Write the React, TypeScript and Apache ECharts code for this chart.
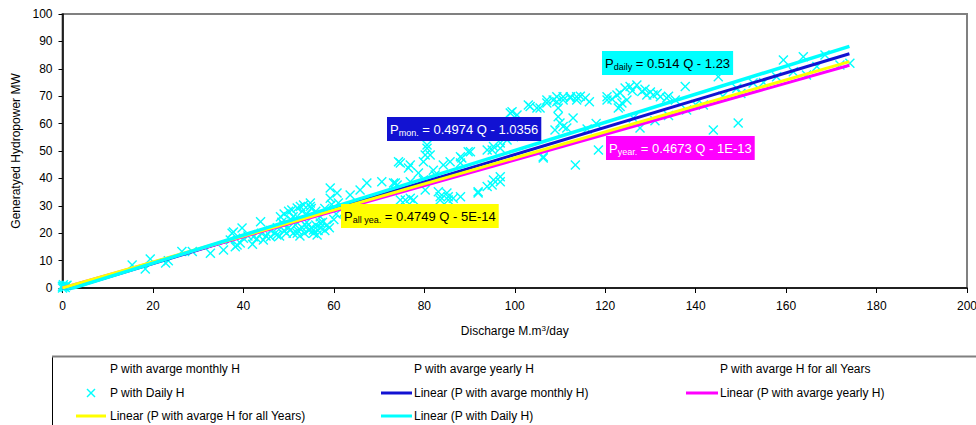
import React, { useEffect, useRef } from "react";
import * as echarts from "echarts";

const FONT = "'Liberation Sans', Arial, sans-serif";

// Daily points [Q (M.m3/day), P (MW)]
const dailyPoints: [number, number][] = [
  [0, 0], [0.3, 0.5], [0.6, 0.2], [1, 1], [0.2, 1.2], [0.8, 0.8], [0, 0.6],
  [15.4, 8.4], [18.3, 6.9], [19.4, 10.6], [22.8, 9.1], [23.4, 9.9], [26.4, 13.3], [28.7, 13.3],
  [32.7, 12.7], [35.6, 13.9], [37.5, 20], [39.7, 21.9], [38.2, 15.1], [39.3, 16.4], [37.1, 17.5],
  [38.6, 15.7], [37.8, 20.4], [40, 18.2], [41, 19], [42, 16], [42.2, 18.7], [43, 18], [43.8, 24.2],
  [44, 20], [44.4, 17.5], [45, 19], [46, 18.7], [46, 21], [47, 20], [47.4, 19.3], [47.5, 22],
  [48, 19], [48.2, 26], [48.5, 24], [48.9, 23], [49, 21], [49, 27], [49.5, 20], [50, 22], [50, 28],
  [50.4, 21.2], [50.5, 25], [50.7, 28.5], [51, 20], [51, 26], [51.5, 23], [51.9, 29.2], [51.9, 20],
  [52, 21], [52.5, 19], [52.6, 24.8], [52.6, 29.7], [53, 22], [53, 28], [53.3, 30.3], [53.5, 20],
  [54, 24], [54, 22.4], [54, 27], [54.5, 21], [54.8, 29.7], [54.8, 31], [55, 22], [55, 29],
  [55.5, 21.2], [55.5, 20], [56, 23], [56, 28], [56.3, 19.3], [56.5, 21], [57, 22], [57, 23.7],
  [57, 26], [57.5, 24], [58, 21], [58.5, 23], [59, 22], [59.2, 32.8], [59.2, 36.5], [60, 25],
  [60.5, 27], [60.7, 34.7], [58, 29], [59.5, 30.5], [61, 31], [62.1, 27.4], [63.6, 33.9],
  [65.8, 35.8], [67.3, 38.3], [70.6, 38.8], [73.2, 38.3], [73.6, 38.3], [74, 37.6], [74.7, 45.6],
  [74.3, 46.1], [74.7, 32.1], [75.8, 32.1], [76.5, 43.8], [76.9, 44.9], [76.9, 38.8], [76.9, 32.8],
  [77.6, 32.1], [78.7, 42], [79.8, 46.1], [79.8, 39.4], [80.2, 48.5], [80.2, 35.8], [80.6, 51],
  [80.6, 52.2], [81.3, 48.5], [82, 43], [82.4, 41.2], [83.1, 35.1], [83.5, 33.3], [83.5, 32.1],
  [84.2, 44.9], [85, 34.7], [85.3, 32.1], [85.3, 33.3], [85.7, 46.1], [86.4, 32.8], [88, 47.9],
  [88, 45.6], [88, 33.3], [88.3, 47.4], [89.7, 49.7], [90.2, 49.7], [91.9, 35.1], [91.9, 34.7],
  [93.9, 37], [93.9, 50.4], [95, 50.4], [95, 37.6], [95.3, 39.4], [95.3, 51.6], [96.8, 40.6],
  [96.8, 38.8], [96.8, 52.9], [96.8, 51], [96.8, 57], [98.3, 54], [99, 63.9], [99.4, 64.3],
  [99.7, 55.2], [100.5, 63.1], [101, 58], [102, 56], [103, 66.8], [103.4, 66.2], [103.4, 60.2],
  [104.9, 65.7], [105.6, 65.7], [106.3, 47.9], [106.3, 47.4], [107.1, 68.6], [107.1, 67.5],
  [108.5, 68.6], [108.9, 57.7], [109.3, 69.8], [109.3, 68], [109.6, 65.7], [109.6, 62.5], [110, 60.2],
  [110.7, 69.8], [110.7, 68.6], [110.7, 58.9], [111.5, 58.4], [112.3, 69.8], [112.3, 69.3],
  [112.9, 62], [113.4, 44.9], [113.7, 69.8], [113.7, 68.6], [114.5, 70], [115.6, 69.3], [116, 58],
  [116.5, 68], [118, 60], [118.5, 50.4], [120.4, 69.8], [120.4, 68.6], [121.5, 69], [122.6, 70.4],
  [122.9, 65.7], [123.3, 71.2], [123.3, 66.2], [123.7, 67.5], [124.4, 73], [124.8, 68.6],
  [125.5, 73.5], [126, 72], [126.2, 62], [127, 74.1], [127.7, 58.4], [128.1, 71.7], [128.8, 72.5],
  [129.2, 70.4], [130, 71.5], [130.6, 70.4], [131, 61], [131.5, 71], [132.2, 69.8], [133.6, 69.3],
  [134, 63], [134, 70], [135.5, 68.6], [137.7, 73.5], [138, 65], [140, 67], [141.7, 66.8],
  [143.9, 57.7], [145, 77.1], [146, 70], [149.1, 72.9], [149.4, 60.2], [150, 71], [152.7, 74.8],
  [155, 75], [157.9, 77.1], [159.4, 83.2], [161.6, 78.9], [163.8, 84.4], [164.5, 77.7], [166.8, 80.8],
  [168.6, 85], [171.9, 81.4], [174.1, 82],
];

// Trend line end points [Q, P]
const trendMonthly: [number, number][] = [[0, -1.04], [174, 85.5]];
const trendYearly: [number, number][] = [[0, 0], [174, 81.3]];
const trendAllYears: [number, number][] = [[0, 0], [174, 82.6]];
const trendDaily: [number, number][] = [[0, -1.23], [174, 88.2]];

const seriesNames = [
  "P with avarge monthly H",
  "P with avarge yearly H",
  "P with avarge H for all Years",
  "P with Daily H",
  "Linear (P with avarge monthly H)",
  "Linear (P with avarge yearly H)",
  "Linear (P with avarge H for all Years)",
  "Linear (P with Daily H)",
];

const COLORS = {
  cyan: "#00FFFF",
  blue: "#1212D2",
  magenta: "#FF00FF",
  yellow: "#FFFF00",
};

const annotations = [
  { sub: "daily", eq: " = 0.514 Q - 1.23", bg: COLORS.cyan, fg: "#000" },
  { sub: "mon.", eq: " = 0.4974 Q - 1.0356", bg: COLORS.blue, fg: "#fff" },
  { sub: "year.", eq: " = 0.4673 Q - 1E-13", bg: COLORS.magenta, fg: "#fff" },
  { sub: "all yea.", eq: " = 0.4749 Q - 5E-14", bg: COLORS.yellow, fg: "#000" },
];
const annotationPos = [
  [602, 51],
  [387, 117],
  [606, 136],
  [341, 204],
];

const X_ICON = "path://M0,1L1,0L5,4L9,0L10,1L6,5L10,9L9,10L5,6L1,10L0,9L4,5Z";

export default function App() {
  const ref = useRef<HTMLDivElement>(null);
  useEffect(() => {
    if (!ref.current) return;
    const chart = echarts.init(ref.current, null, { renderer: "svg" });

    const annGraphics = annotations.map((a, i) => ({
      type: "text",
      x: annotationPos[i][0],
      y: annotationPos[i][1],
      z: 100,
      style: {
        text: `{p|P}{s|${a.sub}}{p|${a.eq}}`,
        backgroundColor: a.bg,
        padding: [4, 3, 4, 3],
        fill: a.fg,
        fontFamily: FONT,
        rich: {
          p: { fontSize: 13, fontFamily: FONT, fill: a.fg, lineHeight: 16 },
          s: { fontSize: 9, fontFamily: FONT, fill: a.fg, lineHeight: 9, verticalAlign: "bottom" },
        },
      },
    }));

    const legendText = (text: string, x: number, y: number) => ({
      type: "text",
      x,
      y,
      z: 101,
      style: { text, fontSize: 12, fontFamily: FONT, fill: "#000", verticalAlign: "middle", align: "left" },
    });
    const legendLine = (x1: number, x2: number, y: number, color: string) => ({
      type: "line",
      z: 101,
      shape: { x1, y1: y, x2, y2: y },
      style: { stroke: color, lineWidth: 3 },
    });

    const rows = [369, 393, 416];
    const cols = [110, 414, 720];

    const legendGraphics: any[] = [
      {
        type: "rect",
        z: 100,
        shape: { x: 52.5, y: 356.5, width: 940, height: 100 },
        style: { fill: "#fff", stroke: "#000", lineWidth: 1 },
      },
      {
        type: "line",
        z: 100,
        shape: { x1: 52, y1: 356.5, x2: 976, y2: 356.5 },
        style: { stroke: "#808080", lineWidth: 2 },
      },
      legendText(seriesNames[0], cols[0], rows[0]),
      legendText(seriesNames[1], cols[1], rows[0]),
      legendText(seriesNames[2], cols[2], rows[0]),
      {
        type: "line",
        z: 101,
        shape: { x1: 87, y1: rows[1] - 4, x2: 95, y2: rows[1] + 4 },
        style: { stroke: COLORS.cyan, lineWidth: 1.5 },
      },
      {
        type: "line",
        z: 101,
        shape: { x1: 95, y1: rows[1] - 4, x2: 87, y2: rows[1] + 4 },
        style: { stroke: COLORS.cyan, lineWidth: 1.5 },
      },
      legendText(seriesNames[3], cols[0], rows[1]),
      legendLine(381, 412, rows[1], COLORS.blue),
      legendText(seriesNames[4], cols[1], rows[1]),
      legendLine(686, 718, rows[1], COLORS.magenta),
      legendText(seriesNames[5], cols[2], rows[1]),
      legendLine(76, 106, rows[2], COLORS.yellow),
      legendText(seriesNames[6], cols[0], rows[2]),
      legendLine(381, 412, rows[2], COLORS.cyan),
      legendText(seriesNames[7], cols[1], rows[2]),
    ];

    const lineSeries = (name: string, data: [number, number][], color: string, width: number) => ({
      name,
      type: "line",
      data,
      showSymbol: false,
      symbol: "none",
      clip: true,
      lineStyle: { color, width },
      itemStyle: { color },
      z: 3,
    });

    chart.setOption({
      animation: false,
      backgroundColor: "#fff",
      textStyle: { fontFamily: FONT },
      grid: {
        left: 62.5,
        top: 14,
        right: 9,
        bottom: 137,
        show: true,
        borderColor: "#808080",
        borderWidth: 2,
        outerBoundsMode: "none",
        containLabel: false,
      },
      xAxis: {
        type: "value",
        min: 0,
        max: 200,
        interval: 20,
        name: "{a|Discharge M.m}{b|3}{a|/day}",
        nameLocation: "middle",
        nameGap: 36,
        nameTextStyle: {
          rich: {
            a: { fontSize: 12, fontFamily: FONT, color: "#000", lineHeight: 14 },
            b: { fontSize: 8, fontFamily: FONT, color: "#000", lineHeight: 14, verticalAlign: "top" },
          },
        },
        splitLine: { show: false },
        axisLine: { show: true, onZero: false, lineStyle: { color: "#000", width: 1.5 } },
        axisTick: { show: true, inside: false, length: 5, lineStyle: { color: "#000" } },
        axisLabel: { color: "#000", fontSize: 12, fontFamily: FONT, margin: 12 },
      },
      yAxis: {
        type: "value",
        min: 0,
        max: 100,
        interval: 10,
        name: "Generatyed Hydropower MW",
        nameLocation: "middle",
        nameGap: 40,
        nameRotate: 90,
        nameTextStyle: { fontSize: 12, fontFamily: FONT, color: "#000" },
        splitLine: { show: false },
        axisLine: { show: true, onZero: false, lineStyle: { color: "#000", width: 1.5 } },
        axisTick: { show: true, inside: false, length: 4, lineStyle: { color: "#000" } },
        axisLabel: { color: "#000", fontSize: 12, fontFamily: FONT, margin: 10 },
      },
      legend: { show: false },
      graphic: [...annGraphics, ...legendGraphics],
      series: [
        { name: seriesNames[0], type: "scatter", data: [], symbol: "none" },
        { name: seriesNames[1], type: "scatter", data: [], symbol: "none" },
        { name: seriesNames[2], type: "scatter", data: [], symbol: "none" },
        {
          name: seriesNames[3],
          type: "scatter",
          data: dailyPoints,
          symbol: X_ICON,
          symbolSize: 10,
          itemStyle: { color: COLORS.cyan, opacity: 1 },
          z: 2,
        },
        lineSeries(seriesNames[4], trendMonthly, COLORS.blue, 3),
        lineSeries(seriesNames[5], trendYearly, COLORS.magenta, 3),
        lineSeries(seriesNames[6], trendAllYears, COLORS.yellow, 3),
        lineSeries(seriesNames[7], trendDaily, COLORS.cyan, 3.5),
      ],
    });
    return () => chart.dispose();
  }, []);

  return (
    <div
      ref={ref}
      style={{ position: "absolute", left: 0, top: 0, width: 976, height: 425 }}
    />
  );
}
